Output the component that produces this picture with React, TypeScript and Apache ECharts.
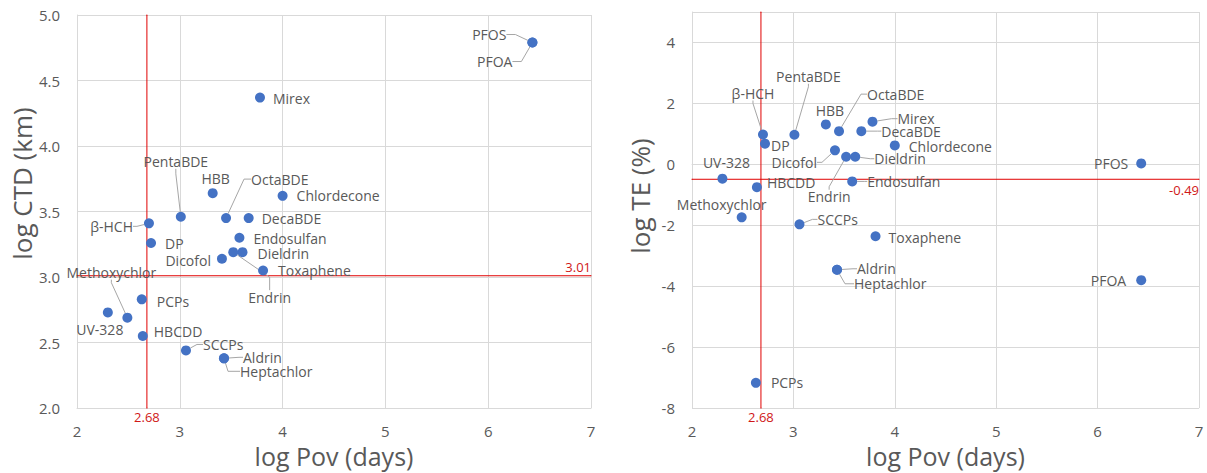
import React, { useEffect, useRef } from "react";
import * as echarts from "echarts";

// ---------- data ----------
const compounds = [
  "PFOS", "PFOA", "Mirex", "Chlordecone", "HBB", "OctaBDE", "DecaBDE", "PentaBDE",
  "β-HCH", "DP", "Endosulfan", "Dieldrin", "Endrin", "Dicofol", "Toxaphene", "PCPs",
  "Methoxychlor", "UV-328", "HBCDD", "SCCPs", "Aldrin", "Heptachlor",
];
const logPov = [
  6.43, 6.43, 3.78, 4.0, 3.32, 3.45, 3.67, 3.01,
  2.7, 2.72, 3.58, 3.61, 3.52, 3.41, 3.81, 2.63,
  2.49, 2.3, 2.64, 3.06, 3.43, 3.43,
];
const logCTD = [
  4.79, 4.79, 4.37, 3.62, 3.64, 3.45, 3.45, 3.46,
  3.41, 3.26, 3.3, 3.19, 3.19, 3.14, 3.05, 2.83,
  2.69, 2.73, 2.55, 2.44, 2.38, 2.38,
];
const logTE = [
  0.03, -3.8, 1.4, 0.62, 1.31, 1.09, 1.09, 0.97,
  0.98, 0.68, -0.56, 0.25, 0.25, 0.46, -2.36, -7.17,
  -1.74, -0.47, -0.75, -1.97, -3.46, -3.46,
];
const povThreshold = 2.68;
const ctdThreshold = 3.01;
const teThreshold = -0.49;
const povRange = [2, 7];
const ctdRange = [2, 5];
const teRange = [-8, 5];

// ---------- label placement (dx, dy, align, leader length or null) ----------
type Lab = [number, number, "left" | "right" | "center", number | null];
const leftLabels: Record<string, Lab> = {
  PFOS: [-26, -8, "right", 9],
  PFOA: [-20, 19, "right", 9],
  Mirex: [13, 1, "left", null],
  Chlordecone: [14, 0, "left", null],
  HBB: [3, -15, "center", null],
  OctaBDE: [25, -39, "left", 7],
  DecaBDE: [13, 0, "left", null],
  PentaBDE: [-5, -55, "center", 5],
  "β-HCH": [-16, 3, "right", 4],
  DP: [14, 1, "left", null],
  Endosulfan: [14, 1, "left", null],
  Dieldrin: [15, 1, "left", null],
  Endrin: [15, 45, "left", 13],
  Dicofol: [-11, 2, "right", null],
  Toxaphene: [15, 0, "left", null],
  PCPs: [15, 2, "left", null],
  Methoxychlor: [-16, -45, "center", 3],
  "UV-328": [-8, 17, "center", null],
  HBCDD: [11, -5, "left", null],
  SCCPs: [17, -6, "left", 6],
  Aldrin: [19, -1, "left", 4],
  Heptachlor: [16, 13, "left", 12],
};
const rightLabels: Record<string, Lab> = {
  PFOS: [-13, 0, "right", null],
  PFOA: [-15, 0, "right", null],
  Mirex: [25, -3, "left", 6],
  Chlordecone: [14, 1, "left", null],
  HBB: [4, -14, "center", null],
  OctaBDE: [28, -37, "left", 6],
  DecaBDE: [20, 0, "left", 4],
  PentaBDE: [14, -58, "center", 3],
  "β-HCH": [-10, -41, "center", 3],
  DP: [6, 2, "left", null],
  Endosulfan: [15, 0, "left", 3],
  Dieldrin: [19, 2, "left", 4],
  Endrin: [-17, 40, "center", 3],
  Dicofol: [-18, 12, "right", 5],
  Toxaphene: [13, 1, "left", null],
  PCPs: [15, 0, "left", null],
  Methoxychlor: [-20, -13, "center", null],
  "UV-328": [4, -16, "center", null],
  HBCDD: [10, -5, "left", null],
  SCCPs: [18, -5, "left", 5],
  Aldrin: [20, -1, "left", 4],
  Heptachlor: [17, 14, "left", 9],
};

const GRID_COLOR = "#d9d9d9";
const TEXT_COLOR = "#595959";
const RED = "#e00000";
const RED_TEXT = "#d01818";
const DOT = "#4472c4";
const FONT = "Open Sans";

function buildData(ys: number[], labels: Record<string, Lab>) {
  return compounds.map((name, i) => {
    const l = labels[name];
    return {
      name,
      value: [logPov[i], ys[i]],
      labelLine: { show: l[3] != null, length2: l[3] ?? 0 },
    };
  });
}

function xAxisOpt(gridIndex: number) {
  return {
    type: "value",
    gridIndex,
    min: povRange[0],
    max: povRange[1],
    interval: 1,
    axisLine: { show: true, lineStyle: { color: GRID_COLOR, width: 1 } },
    axisTick: { show: false },
    splitLine: { show: true, lineStyle: { color: GRID_COLOR, width: 1 } },
    axisLabel: { color: TEXT_COLOR, fontSize: 15, margin: 15, fontFamily: FONT },
    name: "log Pov (days)",
    nameLocation: "middle",
    nameGap: 30,
    nameTextStyle: { color: TEXT_COLOR, fontSize: 25, fontFamily: FONT },
  };
}

const redLabel = { color: RED_TEXT, fontSize: 13, fontFamily: FONT };

function thresholdLine(
  axisIndex: number,
  points: number[][],
  labelIdx: number,
  label: any
) {
  return {
    type: "line",
    xAxisIndex: axisIndex,
    yAxisIndex: axisIndex,
    silent: true,
    symbol: "circle",
    symbolSize: 1,
    showSymbol: true,
    z: 3,
    itemStyle: { color: RED },
    lineStyle: { color: RED, width: 1, type: "solid" },
    label: { show: false },
    emphasis: { disabled: true },
    data: points.map((p, i) =>
      i === labelIdx
        ? { value: p, label: { show: true, ...redLabel, ...label } }
        : { value: p }
    ),
  };
}

export default function App() {
  const ref = useRef<HTMLDivElement>(null);
  useEffect(() => {
    if (!ref.current) return;
    const chart = echarts.init(ref.current, null, { renderer: "svg" });
    const labelLayout = (params: any) => {
      const name = compounds[params.dataIndex];
      const l = (params.seriesIndex === 0 ? leftLabels : rightLabels)[name];
      if (!l) return {};
      return { dx: l[0], dy: l[1], align: l[2], verticalAlign: "middle" };
    };
    const commonSeries = {
      type: "scatter",
      symbol: "circle",
      symbolSize: 10,
      z: 4,
      itemStyle: { color: DOT, opacity: 1 },
      label: {
        show: true,
        position: "inside",
        formatter: "{b}",
        color: TEXT_COLOR,
        fontSize: 14,
        fontFamily: FONT,
      },
      labelLine: { show: false, lineStyle: { color: "#a6a6a6", width: 1 } },
      labelLayout,
      emphasis: { disabled: true },
    };
    const fmtX = (p: any) => Number(p.value[0]).toFixed(2);
    const fmtY = (p: any) => Number(p.value[1]).toFixed(2);
    chart.setOption({
      animation: false,
      textStyle: { fontFamily: FONT },
      grid: [
        { left: 77, top: 15, width: 514, height: 394 },
        { left: 692, top: 12, width: 507, height: 398 },
      ],
      xAxis: [xAxisOpt(0), xAxisOpt(1)],
      yAxis: [
        {
          type: "value",
          gridIndex: 0,
          min: ctdRange[0],
          max: ctdRange[1],
          interval: 0.5,
          axisLine: { show: true, lineStyle: { color: GRID_COLOR, width: 1 } },
          axisTick: { show: false },
          splitLine: { show: true, lineStyle: { color: GRID_COLOR, width: 1 } },
          axisLabel: {
            color: TEXT_COLOR,
            fontSize: 15,
            margin: 17,
            fontFamily: FONT,
            formatter: (v: number) => v.toFixed(1),
          },
          name: "log CTD (km)",
          nameLocation: "middle",
          nameGap: 30,
          nameTextStyle: { color: TEXT_COLOR, fontSize: 26, fontFamily: FONT, padding: [0, 0, 0, 56] },
        },
        {
          type: "value",
          gridIndex: 1,
          min: teRange[0],
          max: teRange[1],
          interval: 2,
          axisLine: { show: true, lineStyle: { color: GRID_COLOR, width: 1 } },
          axisTick: { show: false },
          splitLine: { show: true, lineStyle: { color: GRID_COLOR, width: 1 } },
          axisLabel: {
            color: TEXT_COLOR,
            fontSize: 15,
            margin: 17,
            fontFamily: FONT,
            showMaxLabel: false,
          },
          name: "log TE (%)",
          nameLocation: "middle",
          nameGap: 39,
          nameTextStyle: { color: TEXT_COLOR, fontSize: 26, fontFamily: FONT, padding: [0, 0, 0, 28] },
        },
      ],
      series: [
        {
          ...commonSeries,
          name: "CTD",
          xAxisIndex: 0,
          yAxisIndex: 0,
          data: buildData(logCTD, leftLabels),
        },
        {
          ...commonSeries,
          name: "TE",
          xAxisIndex: 1,
          yAxisIndex: 1,
          data: buildData(logTE, rightLabels),
        },
        thresholdLine(0, [[povThreshold, ctdRange[0]], [povThreshold, ctdRange[1]]], 0, {
          position: "bottom",
          distance: 2,
          formatter: fmtX,
        }),
        thresholdLine(0, [[povRange[0], ctdThreshold], [povRange[1], ctdThreshold]], 1, {
          position: "top",
          align: "right",
          distance: 2,
          formatter: fmtY,
        }),
        thresholdLine(1, [[povThreshold, teRange[0]], [povThreshold, teRange[1]]], 0, {
          position: "bottom",
          distance: 2,
          formatter: fmtX,
        }),
        thresholdLine(1, [[povRange[0], teThreshold], [povRange[1], teThreshold]], 1, {
          position: "bottom",
          align: "right",
          distance: 4,
          formatter: fmtY,
        }),
      ],
    });
    return () => chart.dispose();
  }, []);
  return (
    <div
      ref={ref}
      style={{ position: "absolute", left: 0, top: 0, width: 1207, height: 473, background: "#fff" }}
    />
  );
}
